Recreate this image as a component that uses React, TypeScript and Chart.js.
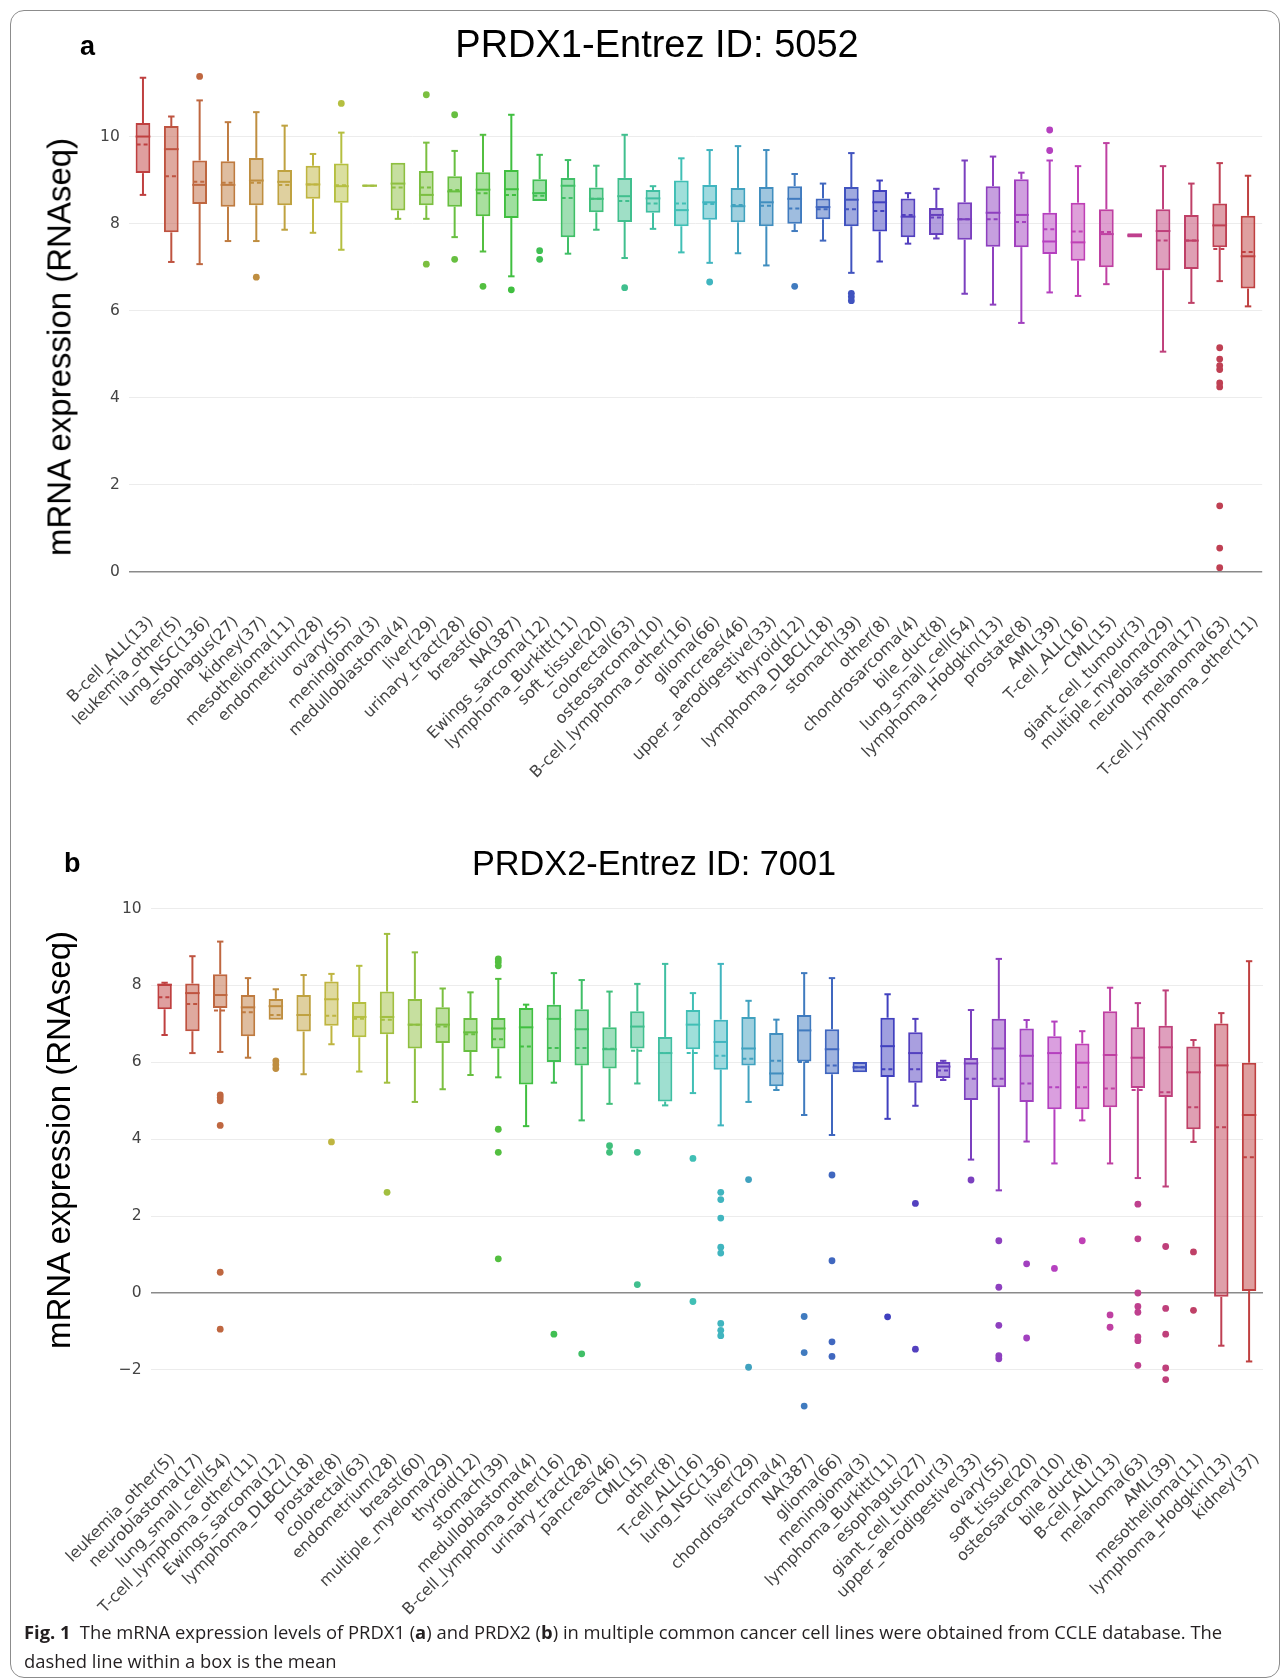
import React, { useEffect, useRef } from 'react';
import { Chart, registerables } from 'chart.js';

Chart.register(...registerables);

// ---------------- Panel a: PRDX1 ----------------
const TOP_CATEGORIES = [
  'B-cell_ALL(13)', 'leukemia_other(5)', 'lung_NSC(136)', 'esophagus(27)', 'kidney(37)',
  'mesothelioma(11)', 'endometrium(28)', 'ovary(55)', 'meningioma(3)', 'medulloblastoma(4)',
  'liver(29)', 'urinary_tract(28)', 'breast(60)', 'NA(387)', 'Ewings_sarcoma(12)',
  'lymphoma_Burkitt(11)', 'soft_tissue(20)', 'colorectal(63)', 'osteosarcoma(10)', 'B-cell_lymphoma_other(16)',
  'glioma(66)', 'pancreas(46)', 'upper_aerodigestive(33)', 'thyroid(12)', 'lymphoma_DLBCL(18)',
  'stomach(39)', 'other(8)', 'chondrosarcoma(4)', 'bile_duct(8)', 'lung_small_cell(54)',
  'lymphoma_Hodgkin(13)', 'prostate(8)', 'AML(39)', 'T-cell_ALL(16)', 'CML(15)',
  'giant_cell_tumour(3)', 'multiple_myeloma(29)', 'neuroblastoma(17)', 'melanoma(63)', 'T-cell_lymphoma_other(11)',
];
const TOP_LOW = [8.66, 7.12, 7.07, 7.60, 7.60, 7.86, 7.79, 7.40, 8.85, 8.11, 8.11, 7.69, 7.36, 6.79, 8.52, 7.31, 7.86, 7.21, 7.88, 7.34, 7.10, 7.32, 7.04, 7.83, 7.61, 6.87, 7.13, 7.54, 7.66, 6.39, 6.14, 5.72, 6.42, 6.34, 6.61, 7.68, 5.06, 6.18, 6.68, 6.10];
const TOP_Q1 = [9.16, 7.80, 8.45, 8.39, 8.42, 8.42, 8.57, 8.48, 8.85, 8.30, 8.42, 8.39, 8.17, 8.13, 8.52, 7.69, 8.26, 8.04, 8.25, 7.94, 8.09, 8.03, 7.94, 8.00, 8.10, 7.94, 7.82, 7.69, 7.74, 7.63, 7.47, 7.46, 7.30, 7.15, 7.00, 7.68, 6.93, 6.96, 7.46, 6.51];
const TOP_MEDIAN = [10.00, 9.71, 8.89, 8.89, 8.99, 8.96, 8.90, 8.86, 8.87, 8.92, 8.66, 8.74, 8.78, 8.79, 8.70, 8.87, 8.57, 8.63, 8.58, 8.31, 8.49, 8.40, 8.49, 8.57, 8.38, 8.55, 8.49, 8.16, 8.20, 8.10, 8.25, 8.20, 7.59, 7.57, 7.76, 7.73, 7.83, 7.61, 7.96, 7.25];
const TOP_MEAN = [9.82, 9.09, 8.96, 8.94, 8.94, 8.89, 8.90, 8.88, 8.87, 8.83, 8.83, 8.77, 8.70, 8.66, 8.64, 8.59, 8.57, 8.52, 8.46, 8.46, 8.45, 8.43, 8.41, 8.35, 8.33, 8.33, 8.29, 8.20, 8.14, 8.10, 8.10, 8.04, 7.87, 7.82, 7.81, 7.73, 7.61, 7.61, 7.42, 7.35];
const TOP_Q3 = [10.31, 10.24, 9.45, 9.43, 9.51, 9.23, 9.33, 9.38, 8.90, 9.40, 9.21, 9.09, 9.18, 9.23, 9.02, 9.05, 8.83, 9.05, 8.77, 8.99, 8.89, 8.82, 8.84, 8.86, 8.58, 8.84, 8.77, 8.58, 8.36, 8.49, 8.86, 9.02, 8.25, 8.48, 8.33, 7.78, 8.33, 8.20, 8.46, 8.18];
const TOP_HIGH = [11.35, 10.46, 10.83, 10.33, 10.56, 10.25, 9.60, 10.09, 8.90, 9.40, 9.86, 9.67, 10.04, 10.50, 9.58, 9.46, 9.33, 10.04, 8.86, 9.50, 9.69, 9.78, 9.69, 9.14, 8.92, 9.62, 8.99, 8.70, 8.80, 9.45, 9.54, 9.17, 9.45, 9.32, 9.85, 7.78, 9.32, 8.92, 9.39, 9.10];
const TOP_OUTLIERS: number[][] = [
  [], [], [11.38], [], [6.77], [], [], [10.76], [], [],
  [10.96, 7.07], [10.50, 7.18], [6.56], [6.48], [7.38, 7.18], [], [], [6.53], [], [],
  [6.66], [], [], [6.56], [], [6.40, 6.32, 6.23], [], [], [], [],
  [], [], [10.15, 9.68], [], [], [], [], [], [5.15, 4.89, 4.74, 4.65, 4.34, 4.25, 1.52, 0.55, 0.10], [],
];
const TOP_Y_TICKS = [0, 2, 4, 6, 8, 10];

// ---------------- Panel b: PRDX2 ----------------
const BOTTOM_CATEGORIES = [
  'leukemia_other(5)', 'neuroblastoma(17)', 'lung_small_cell(54)', 'T-cell_lymphoma_other(11)', 'Ewings_sarcoma(12)',
  'lymphoma_DLBCL(18)', 'prostate(8)', 'colorectal(63)', 'endometrium(28)', 'breast(60)',
  'multiple_myeloma(29)', 'thyroid(12)', 'stomach(39)', 'medulloblastoma(4)', 'B-cell_lymphoma_other(16)',
  'urinary_tract(28)', 'pancreas(46)', 'CML(15)', 'other(8)', 'T-cell_ALL(16)',
  'lung_NSC(136)', 'liver(29)', 'chondrosarcoma(4)', 'NA(387)', 'glioma(66)',
  'meningioma(3)', 'lymphoma_Burkitt(11)', 'esophagus(27)', 'giant_cell_tumour(3)', 'upper_aerodigestive(33)',
  'ovary(55)', 'soft_tissue(20)', 'osteosarcoma(10)', 'bile_duct(8)', 'B-cell_ALL(13)',
  'melanoma(63)', 'AML(39)', 'mesothelioma(11)', 'lymphoma_Hodgkin(13)', 'kidney(37)',
];
const BOTTOM_LOW = [6.71, 6.24, 6.27, 6.12, 7.11, 5.69, 6.47, 5.76, 5.47, 4.97, 5.30, 5.67, 5.61, 4.34, 5.47, 4.49, 4.92, 5.45, 4.88, 5.20, 4.36, 4.97, 5.28, 4.63, 4.11, 5.74, 4.53, 4.87, 5.54, 3.47, 2.67, 3.94, 3.37, 4.49, 3.37, 2.99, 2.77, 3.93, -1.37, -1.78];
const BOTTOM_Q1 = [7.38, 6.81, 7.41, 6.68, 7.11, 6.80, 6.95, 6.65, 6.73, 6.36, 6.50, 6.27, 6.36, 5.42, 6.01, 5.92, 5.84, 6.36, 4.98, 6.34, 5.81, 5.92, 5.38, 6.02, 5.69, 5.74, 5.62, 5.47, 5.59, 5.02, 5.35, 4.97, 4.78, 4.78, 4.83, 5.33, 5.10, 4.26, -0.10, 0.05];
const BOTTOM_MEDIAN = [8.02, 7.80, 7.75, 7.43, 7.46, 7.23, 7.64, 7.18, 7.18, 6.98, 6.98, 6.78, 6.88, 6.91, 7.13, 6.86, 6.34, 6.93, 6.24, 6.98, 6.53, 6.36, 5.71, 6.83, 6.34, 5.87, 6.42, 6.24, 5.89, 5.97, 6.36, 6.17, 6.24, 5.99, 6.19, 6.12, 6.39, 5.74, 5.92, 4.63];
const BOTTOM_MEAN = [7.69, 7.52, 7.35, 7.30, 7.23, 7.23, 7.21, 7.13, 7.11, 6.98, 6.93, 6.73, 6.60, 6.41, 6.37, 6.37, 6.35, 6.30, 6.24, 6.24, 6.17, 6.09, 6.04, 6.01, 5.92, 5.87, 5.82, 5.82, 5.79, 5.57, 5.57, 5.45, 5.35, 5.35, 5.32, 5.28, 5.22, 4.83, 4.31, 3.53];
const BOTTOM_Q3 = [8.04, 8.05, 8.29, 7.75, 7.65, 7.75, 8.10, 7.57, 7.84, 7.65, 7.43, 7.15, 7.15, 7.41, 7.50, 7.38, 6.91, 7.33, 6.66, 7.36, 7.11, 7.18, 6.76, 7.23, 6.86, 6.01, 7.16, 6.78, 6.01, 6.11, 7.13, 6.88, 6.68, 6.49, 7.33, 6.91, 6.95, 6.41, 7.01, 5.99];
const BOTTOM_HIGH = [8.07, 8.76, 9.14, 8.19, 7.90, 8.27, 8.30, 8.51, 9.34, 8.86, 7.92, 7.82, 8.17, 7.50, 8.32, 8.14, 7.84, 8.04, 8.56, 7.80, 8.56, 7.60, 7.11, 8.32, 8.19, 6.01, 7.77, 7.13, 6.04, 7.36, 8.69, 7.10, 7.06, 6.81, 7.94, 7.54, 7.87, 6.58, 7.28, 8.63];
const BOTTOM_OUTLIERS: number[][] = [
  [], [], [5.15, 5.08, 5.00, 4.36, 0.54, -0.94], [], [6.04, 5.94, 5.84],
  [], [3.93], [], [2.62], [],
  [], [], [8.69, 8.61, 8.51, 4.26, 3.66, 0.89], [], [-1.07],
  [-1.58], [3.83, 3.66], [3.66, 0.22], [], [3.50, -0.22],
  [2.62, 2.43, 1.95, 1.19, 1.04, -0.79, -0.97, -1.11], [2.95, -1.93], [], [-0.61, -1.55, -2.94], [3.07, 0.84, -1.27, -1.65],
  [], [-0.62], [2.33, -1.46], [], [2.94],
  [1.36, 0.15, -0.84, -1.63, -1.71], [0.76, -1.17], [0.64], [1.36], [-0.57, -0.89],
  [2.31, 1.41, 0.00, -0.35, -0.50, -1.14, -1.24, -1.88], [1.21, -0.40, -1.07, -1.95, -2.25], [1.07, -0.45], [], [],
];
const BOTTOM_Y_TICKS = [-2, 0, 2, 4, 6, 8, 10];

type BoxSpec = {
  categories: string[];
  low: number[];
  q1: number[];
  median: number[];
  mean: number[];
  q3: number[];
  high: number[];
  outliers: number[][];
  yMin: number;
  yMax: number;
  yTicks: number[];
};

type Geo = {
  left: number;
  top: number;
  width: number;
  height: number;
  padTop: number;
  padRight: number;
  yAxisWidth: number;
  xAxisHeight: number;
  labelDx: number;
  labelDy: number;
};

const TICK_FONT = '"DejaVu Sans", Verdana, sans-serif';
const TITLE_FONT = '"Liberation Sans", Arial, Helvetica, sans-serif';
const X_LABEL_SIZE = 16;

function hueAt(i: number, n: number) {
  return (i * 360) / (n - 1);
}
function lineColor(i: number, n: number) {
  return `hsl(${hueAt(i, n)}, 50%, 50%)`;
}
function fillColor(i: number, n: number) {
  return `hsla(${hueAt(i, n)}, 50%, 50%, 0.5)`;
}

function boxDetailsPlugin(spec: BoxSpec, geo: Geo) {
  return {
    id: 'boxDetails',
    afterDatasetsDraw(chart: any) {
      const { ctx } = chart;
      const xs = chart.scales.x;
      const ys = chart.scales.y;
      const meta = chart.getDatasetMeta(0);
      const n = spec.categories.length;
      ctx.save();
      ctx.lineWidth = 2;
      ctx.lineCap = 'butt';
      const seg = (x1: number, y1: number, x2: number, y2: number) => {
        ctx.beginPath();
        ctx.moveTo(x1, y1);
        ctx.lineTo(x2, y2);
        ctx.stroke();
      };
      for (let i = 0; i < n; i++) {
        const el = meta.data[i];
        const cx = xs.getPixelForValue(i);
        const half = el.width / 2;
        const cap = el.width * 0.22;
        ctx.strokeStyle = lineColor(i, n);
        ctx.setLineDash([]);
        const yQ1 = ys.getPixelForValue(spec.q1[i]);
        const yQ3 = ys.getPixelForValue(spec.q3[i]);
        const yLo = ys.getPixelForValue(spec.low[i]);
        const yHi = ys.getPixelForValue(spec.high[i]);
        if (spec.high[i] > spec.q3[i]) {
          seg(cx, yQ3, cx, yHi);
          seg(cx - cap, yHi, cx + cap, yHi);
        }
        if (spec.low[i] < spec.q1[i]) {
          seg(cx, yQ1, cx, yLo);
          seg(cx - cap, yLo, cx + cap, yLo);
        }
        const yMed = ys.getPixelForValue(spec.median[i]);
        seg(cx - half, yMed, cx + half, yMed);
        ctx.setLineDash([4, 3]);
        const yMean = ys.getPixelForValue(spec.mean[i]);
        seg(cx - half + 1, yMean, cx + half - 1, yMean);
      }
      ctx.restore();
    },
    afterDraw(chart: any) {
      // category tick labels, rotated 45°, anchored at each category tick of the x scale
      const { ctx, chartArea } = chart;
      const xs = chart.scales.x;
      ctx.save();
      ctx.font = `${X_LABEL_SIZE}px ${TICK_FONT}`;
      ctx.fillStyle = '#444';
      ctx.textAlign = 'right';
      ctx.textBaseline = 'middle';
      spec.categories.forEach((label, i) => {
        const px = xs.getPixelForValue(i);
        ctx.setTransform(1, 0, 0, 1, 0, 0);
        ctx.translate(px + geo.labelDx, chartArea.bottom + geo.labelDy);
        ctx.rotate(-Math.PI / 4);
        ctx.fillText(label, 0, 0);
      });
      ctx.restore();
    },
  };
}

function buildConfig(spec: BoxSpec, geo: Geo): any {
  const n = spec.categories.length;
  const outlierPoints: { x: string; y: number }[] = [];
  const outlierColors: string[] = [];
  spec.outliers.forEach((vals, i) => {
    vals.forEach((v) => {
      outlierPoints.push({ x: spec.categories[i], y: v });
      outlierColors.push(lineColor(i, n));
    });
  });
  return {
    type: 'bar',
    data: {
      labels: spec.categories,
      datasets: [
        {
          type: 'bar',
          data: spec.q1.map((v, i) => [v, spec.q3[i]]),
          backgroundColor: spec.categories.map((_, i) => fillColor(i, n)),
          borderColor: spec.categories.map((_, i) => lineColor(i, n)),
          borderWidth: 2,
          borderSkipped: false,
          barPercentage: 0.52,
          categoryPercentage: 1,
          order: 2,
        },
        {
          type: 'line',
          data: outlierPoints,
          showLine: false,
          pointRadius: 3.4,
          pointHoverRadius: 3.4,
          pointBorderWidth: 0,
          pointBackgroundColor: outlierColors,
          pointBorderColor: outlierColors,
          order: 1,
        },
      ],
    },
    options: {
      animation: false,
      responsive: false,
      devicePixelRatio: 1,
      events: [],
      layout: { padding: { top: geo.padTop, right: geo.padRight, left: 0, bottom: 0 } },
      plugins: {
        legend: { display: false },
        tooltip: { enabled: false },
        title: { display: false },
      },
      scales: {
        x: {
          type: 'category',
          offset: true,
          grid: { display: false, drawTicks: false },
          border: { display: false },
          ticks: { display: false, autoSkip: false },
          afterFit: (s: any) => {
            s.height = geo.xAxisHeight;
            s.paddingLeft = 0;
            s.paddingRight = 0;
          },
        },
        y: {
          type: 'linear',
          min: spec.yMin,
          max: spec.yMax,
          grid: {
            drawTicks: false,
            color: (c: any) => (c.tick && c.tick.value === 0 ? '#8a8a8a' : '#ececec'),
            lineWidth: (c: any) => (c.tick && c.tick.value === 0 ? 1.6 : 1),
          },
          border: { display: false },
          ticks: {
            padding: 9,
            color: '#444',
            font: { family: TICK_FONT, size: 15.5 },
            callback: (v: any) => String(v).replace('-', '\u2212'),
          },
          afterBuildTicks: (s: any) => {
            s.ticks = spec.yTicks.map((v) => ({ value: v }));
          },
          afterFit: (s: any) => {
            s.width = geo.yAxisWidth;
            s.paddingTop = 0;
            s.paddingBottom = 0;
          },
        },
      },
    },
    plugins: [boxDetailsPlugin(spec, geo)],
  };
}

function BoxChart({ spec, geo }: { spec: BoxSpec; geo: Geo }) {
  const ref = useRef<HTMLCanvasElement>(null);
  useEffect(() => {
    const canvas = ref.current;
    if (!canvas) return;
    const chart = new Chart(canvas, buildConfig(spec, geo));
    return () => chart.destroy();
  }, [spec, geo]);
  return (
    <canvas
      ref={ref}
      width={geo.width}
      height={geo.height}
      style={{ position: 'absolute', left: geo.left, top: geo.top, width: geo.width, height: geo.height }}
    />
  );
}

const TOP_SPEC: BoxSpec = {
  categories: TOP_CATEGORIES,
  low: TOP_LOW,
  q1: TOP_Q1,
  median: TOP_MEDIAN,
  mean: TOP_MEAN,
  q3: TOP_Q3,
  high: TOP_HIGH,
  outliers: TOP_OUTLIERS,
  yMin: -0.7,
  yMax: 11.9,
  yTicks: TOP_Y_TICKS,
};
const BOTTOM_SPEC: BoxSpec = {
  categories: BOTTOM_CATEGORIES,
  low: BOTTOM_LOW,
  q1: BOTTOM_Q1,
  median: BOTTOM_MEDIAN,
  mean: BOTTOM_MEAN,
  q3: BOTTOM_Q3,
  high: BOTTOM_HIGH,
  outliers: BOTTOM_OUTLIERS,
  yMin: -3.5,
  yMax: 10.05,
  yTicks: BOTTOM_Y_TICKS,
};

const TOP_GEO: Geo = { left: 0, top: 0, width: 1287, height: 800, padTop: 53.8, padRight: 24.8, yAxisWidth: 128.8, xAxisHeight: 197.5, labelDx: 8, labelDy: 17 };
const BOTTOM_GEO: Geo = { left: 0, top: 800, width: 1287, height: 825, padTop: 106.6, padRight: 24, yAxisWidth: 150.7, xAxisHeight: 197.4, labelDx: 8, labelDy: 29 };

export default function App() {
  const axisTitle: React.CSSProperties = {
    position: 'absolute',
    transform: 'translate(-50%, -50%) rotate(-90deg)',
    fontFamily: TITLE_FONT,
    fontSize: 33,
    lineHeight: 1,
    whiteSpace: 'nowrap',
    color: '#000',
  };
  return (
    <div style={{ position: 'absolute', left: 0, top: 0, width: 1287, height: 1679, background: '#fff', overflow: 'hidden' }}>
      <div
        style={{
          position: 'absolute',
          left: 10,
          top: 10,
          width: 1270,
          height: 1668,
          border: '1.5px solid #8c8c8c',
          borderRadius: 14,
          boxSizing: 'border-box',
        }}
      />
      <BoxChart spec={TOP_SPEC} geo={TOP_GEO} />
      <BoxChart spec={BOTTOM_SPEC} geo={BOTTOM_GEO} />

      <div style={{ position: 'absolute', left: 80, top: 33, fontFamily: TITLE_FONT, fontWeight: 'bold', fontSize: 27, lineHeight: 1 }}>a</div>
      <div style={{ position: 'absolute', left: 64, top: 850, fontFamily: TITLE_FONT, fontWeight: 'bold', fontSize: 27, lineHeight: 1 }}>b</div>

      <div style={{ position: 'absolute', left: 657, top: 25, transform: 'translateX(-50%)', fontFamily: TITLE_FONT, fontSize: 38, lineHeight: 1, whiteSpace: 'nowrap', color: '#000' }}>
        PRDX1-Entrez ID: 5052
      </div>
      <div style={{ position: 'absolute', left: 654, top: 845.7, transform: 'translateX(-50%)', fontFamily: TITLE_FONT, fontSize: 34.3, lineHeight: 1, whiteSpace: 'nowrap', color: '#000' }}>
        PRDX2-Entrez ID: 7001
      </div>

      <div style={{ ...axisTitle, left: 59, top: 347 }}>mRNA expression (RNAseq)</div>
      <div style={{ ...axisTitle, left: 58, top: 1140 }}>mRNA expression (RNAseq)</div>

      <div
        style={{
          position: 'absolute',
          left: 24,
          top: 1617,
          fontFamily: '"Open Sans", "Noto Sans", sans-serif',
          fontSize: 18.4,
          lineHeight: '29px',
          color: '#231f20',
          whiteSpace: 'nowrap',
        }}
      >
        <b>Fig. 1</b>
        {'\u2002The mRNA expression levels of PRDX1 ('}
        <b>a</b>
        {') and PRDX2 ('}
        <b>b</b>
        {') in multiple common cancer cell lines were obtained from CCLE database. The'}
        <br />
        dashed line within a box is the mean
      </div>
    </div>
  );
}
